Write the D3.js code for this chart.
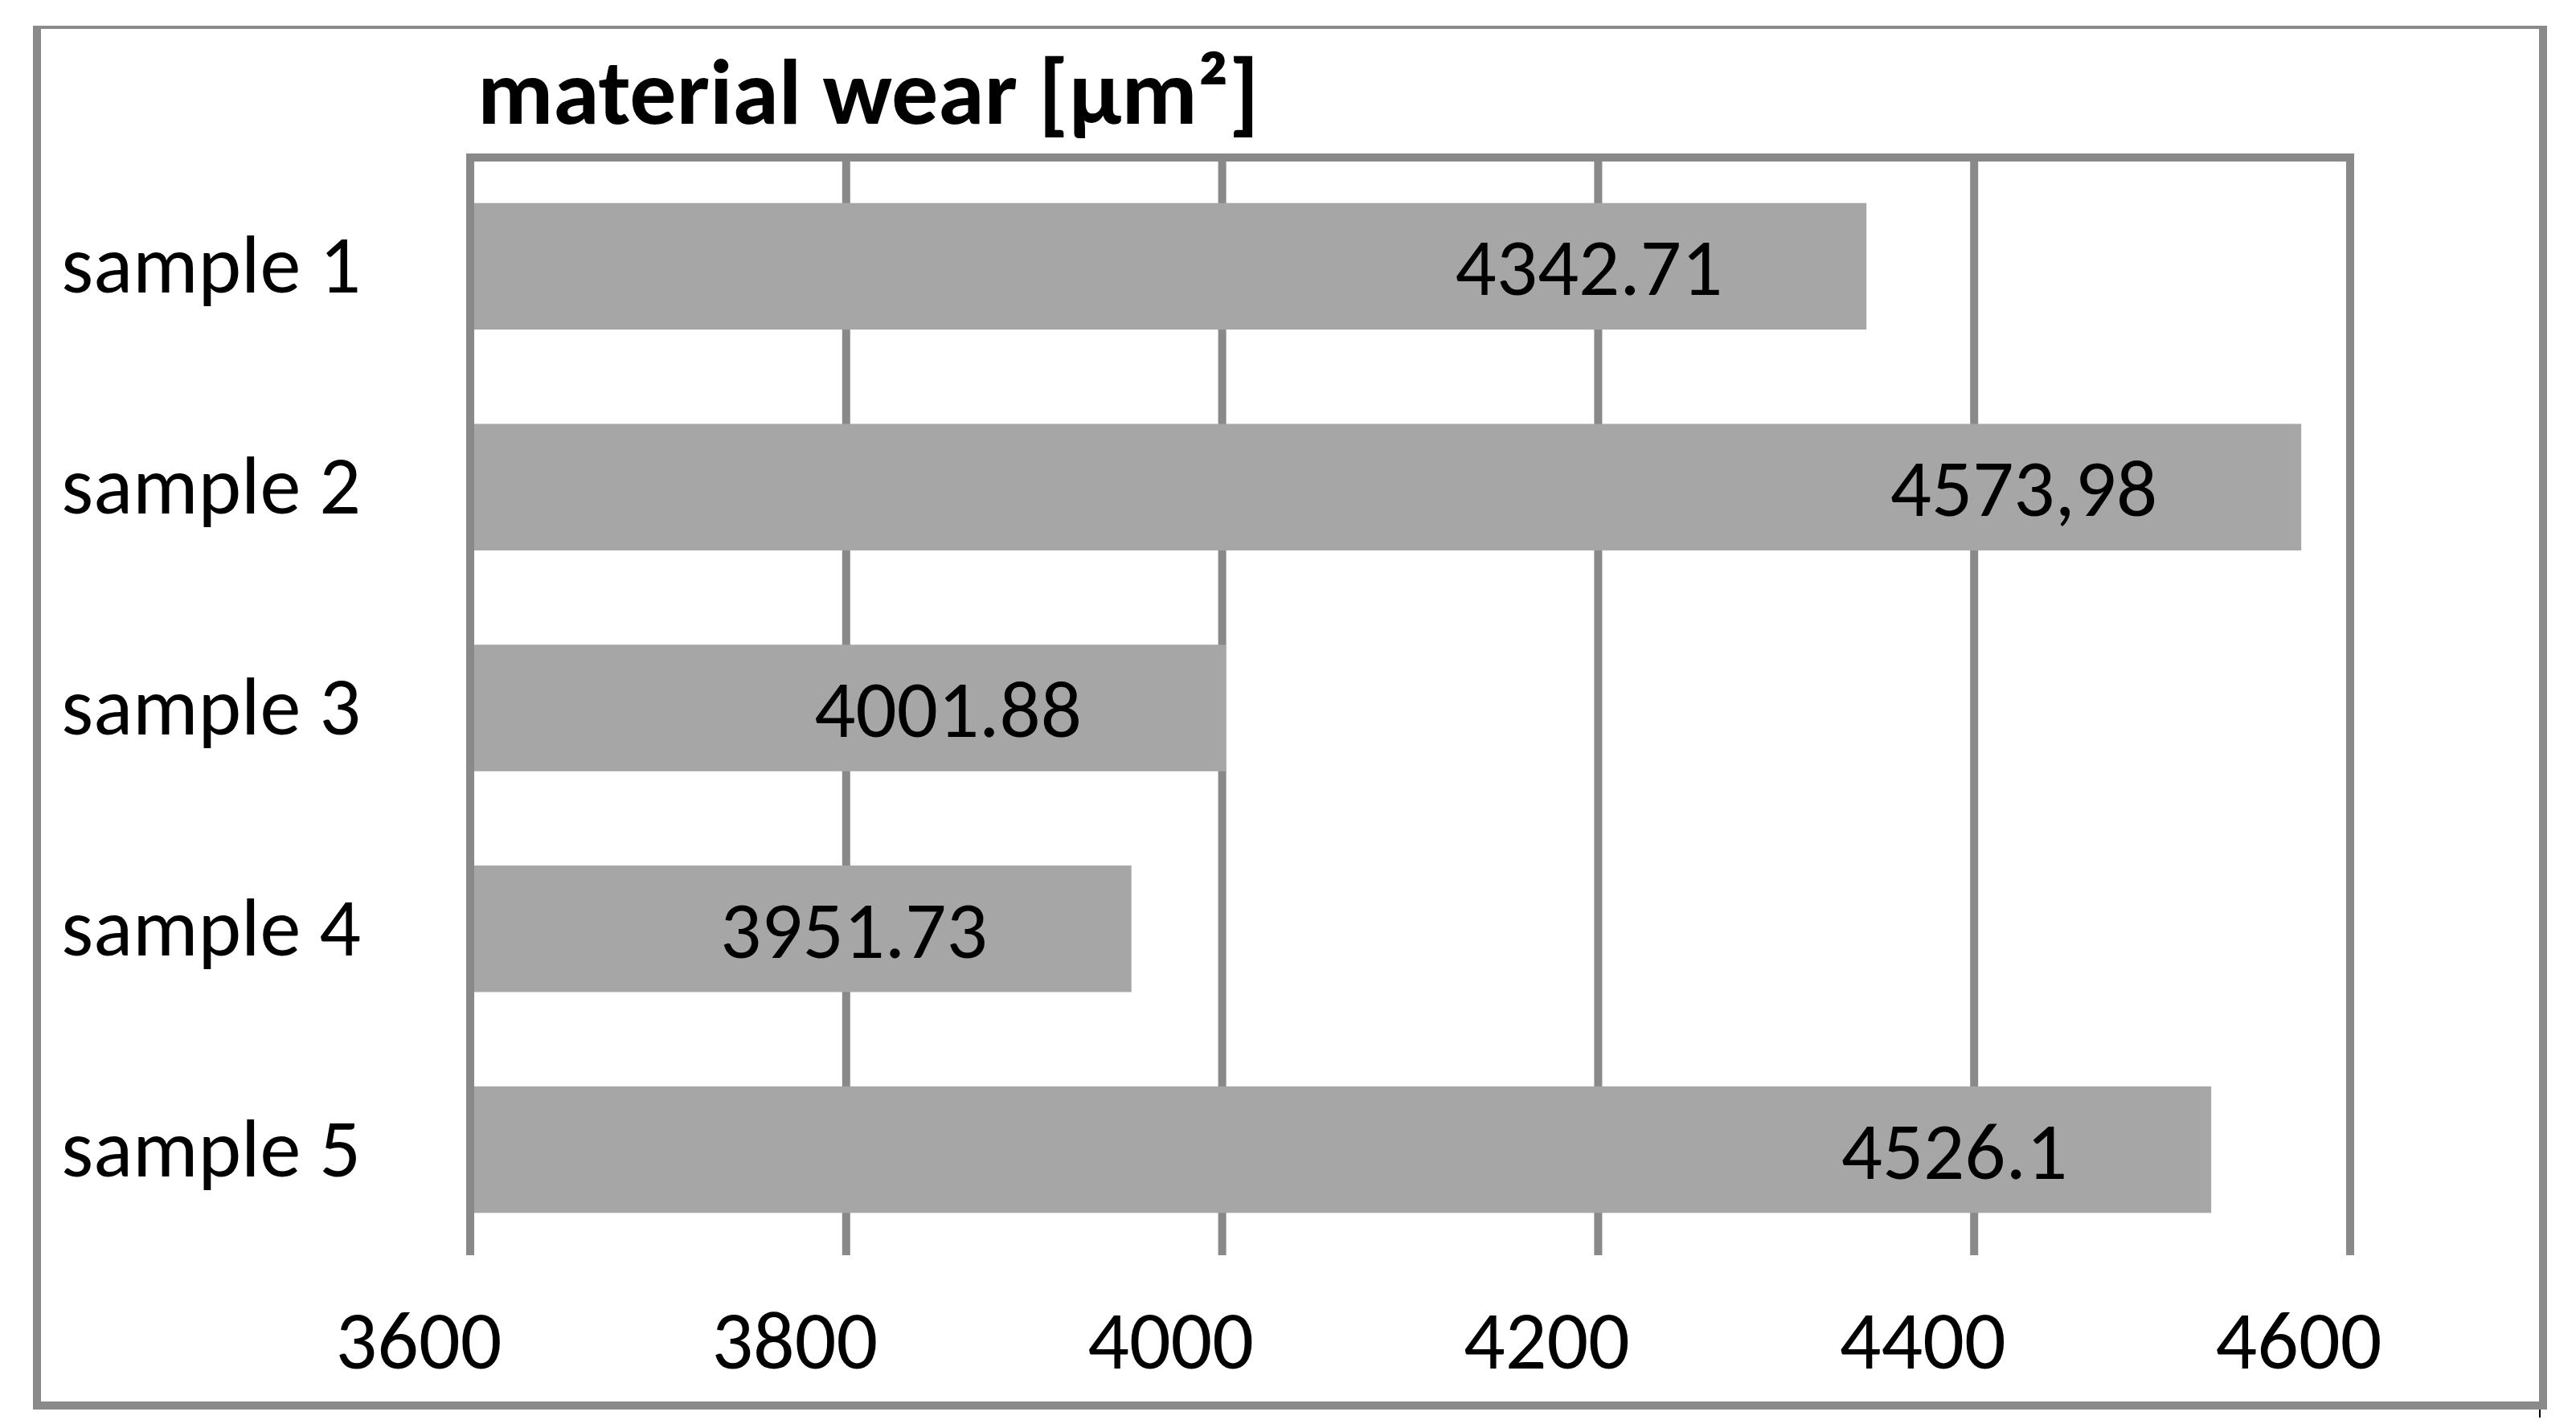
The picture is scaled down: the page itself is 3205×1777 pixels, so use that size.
<!DOCTYPE html>
<html>
<head>
<meta charset="utf-8">
<script src="https://cdn.jsdelivr.net/npm/d3@7"></script>
<style>
  body { margin: 0; background: #fff; }
  text { font-family: Carlito, Lato, "Open Sans", sans-serif; fill: #000; }
</style>
</head>
<body>
<svg id="chart" width="3205" height="1777"></svg>
<script>
// Data
let categories = ["sample 1", "sample 2", "sample 3", "sample 4", "sample 5"];
let values = [4342.71, 4573.98, 4001.88, 3951.73, 4526.1];
let valueLabels = ["4342.71", "4573,98", "4001.88", "3951.73", "4526.1"];
let xTicks = [3600, 3800, 4000, 4200, 4400, 4600];
let title = "material wear [\u00b5m\u00b2]";

let svg = d3.select("#chart");

// plot area
let plotLeft = 585, plotRight = 2924, plotTop = 196, plotBottom = 1562;
let gridColor = "#898989";

let x = d3.scaleLinear()
  .domain([3600, 4600])
  .range([plotLeft, plotRight]);

let y = d3.scaleBand()
  .domain(categories)
  .range([plotTop - 2, plotBottom + 6])
  .paddingInner(0.427)
  .paddingOuter(0.2135);

// outer frame
let frame = svg.append("g").attr("stroke", "#8a8a8a");
frame.append("line").attr("x1", 41).attr("x2", 3169).attr("y1", 34).attr("y2", 34).attr("stroke-width", 4);
frame.append("line").attr("x1", 46).attr("x2", 46).attr("y1", 32).attr("y2", 1754).attr("stroke-width", 10);
frame.append("line").attr("x1", 3164).attr("x2", 3164).attr("y1", 32).attr("y2", 1754).attr("stroke-width", 10);
frame.append("line").attr("x1", 41).attr("x2", 3169).attr("y1", 1749).attr("y2", 1749).attr("stroke-width", 10);

// vertical gridlines (first one is the category axis)
svg.append("g")
  .selectAll("line")
  .data(xTicks)
  .join("line")
  .attr("x1", d => x(d))
  .attr("x2", d => x(d))
  .attr("y1", plotTop)
  .attr("y2", plotBottom)
  .attr("stroke", gridColor)
  .attr("stroke-width", 10);

// top border line
svg.append("line")
  .attr("x1", plotLeft - 5)
  .attr("x2", plotRight + 5)
  .attr("y1", plotTop)
  .attr("y2", plotTop)
  .attr("stroke", gridColor)
  .attr("stroke-width", 10);

// bars
svg.append("g")
  .selectAll("rect")
  .data(values)
  .join("rect")
  .attr("x", x(3600) + 5)
  .attr("y", (d, i) => y(categories[i]))
  .attr("width", d => x(d) - x(3600) - 5)
  .attr("height", y.bandwidth())
  .attr("fill", "#a6a6a6");

// value labels, a fixed distance in from the bar end
svg.append("g")
  .selectAll("text")
  .data(values)
  .join("text")
  .attr("x", d => x(d) - 179)
  .attr("y", (d, i) => y(categories[i]) + y.bandwidth() / 2 + 36)
  .attr("text-anchor", "end")
  .style("font-size", "101px")
  .text((d, i) => valueLabels[i]);

// category labels
svg.append("g")
  .selectAll("text")
  .data(categories)
  .join("text")
  .attr("x", 449)
  .attr("y", d => y(d) + y.bandwidth() / 2 + 33)
  .attr("text-anchor", "end")
  .style("font-size", "102px")
  .text(d => d);

// x tick labels (drawn a little left of their gridlines, as in the original)
svg.append("g")
  .selectAll("text")
  .data(xTicks)
  .join("text")
  .attr("x", d => x(d) - 64)
  .attr("y", 1703)
  .attr("text-anchor", "middle")
  .style("font-size", "102px")
  .text(d => d);

// title
svg.append("text")
  .attr("x", 594)
  .attr("y", 154)
  .style("font-size", "116px")
  .style("font-weight", "bold")
  .text(title);

// small tick under the frame corner
svg.append("line")
  .attr("x1", 3160)
  .attr("x2", 3160)
  .attr("y1", 1754)
  .attr("y2", 1764)
  .attr("stroke", "#000")
  .attr("stroke-width", 2);
</script>
</body>
</html>
